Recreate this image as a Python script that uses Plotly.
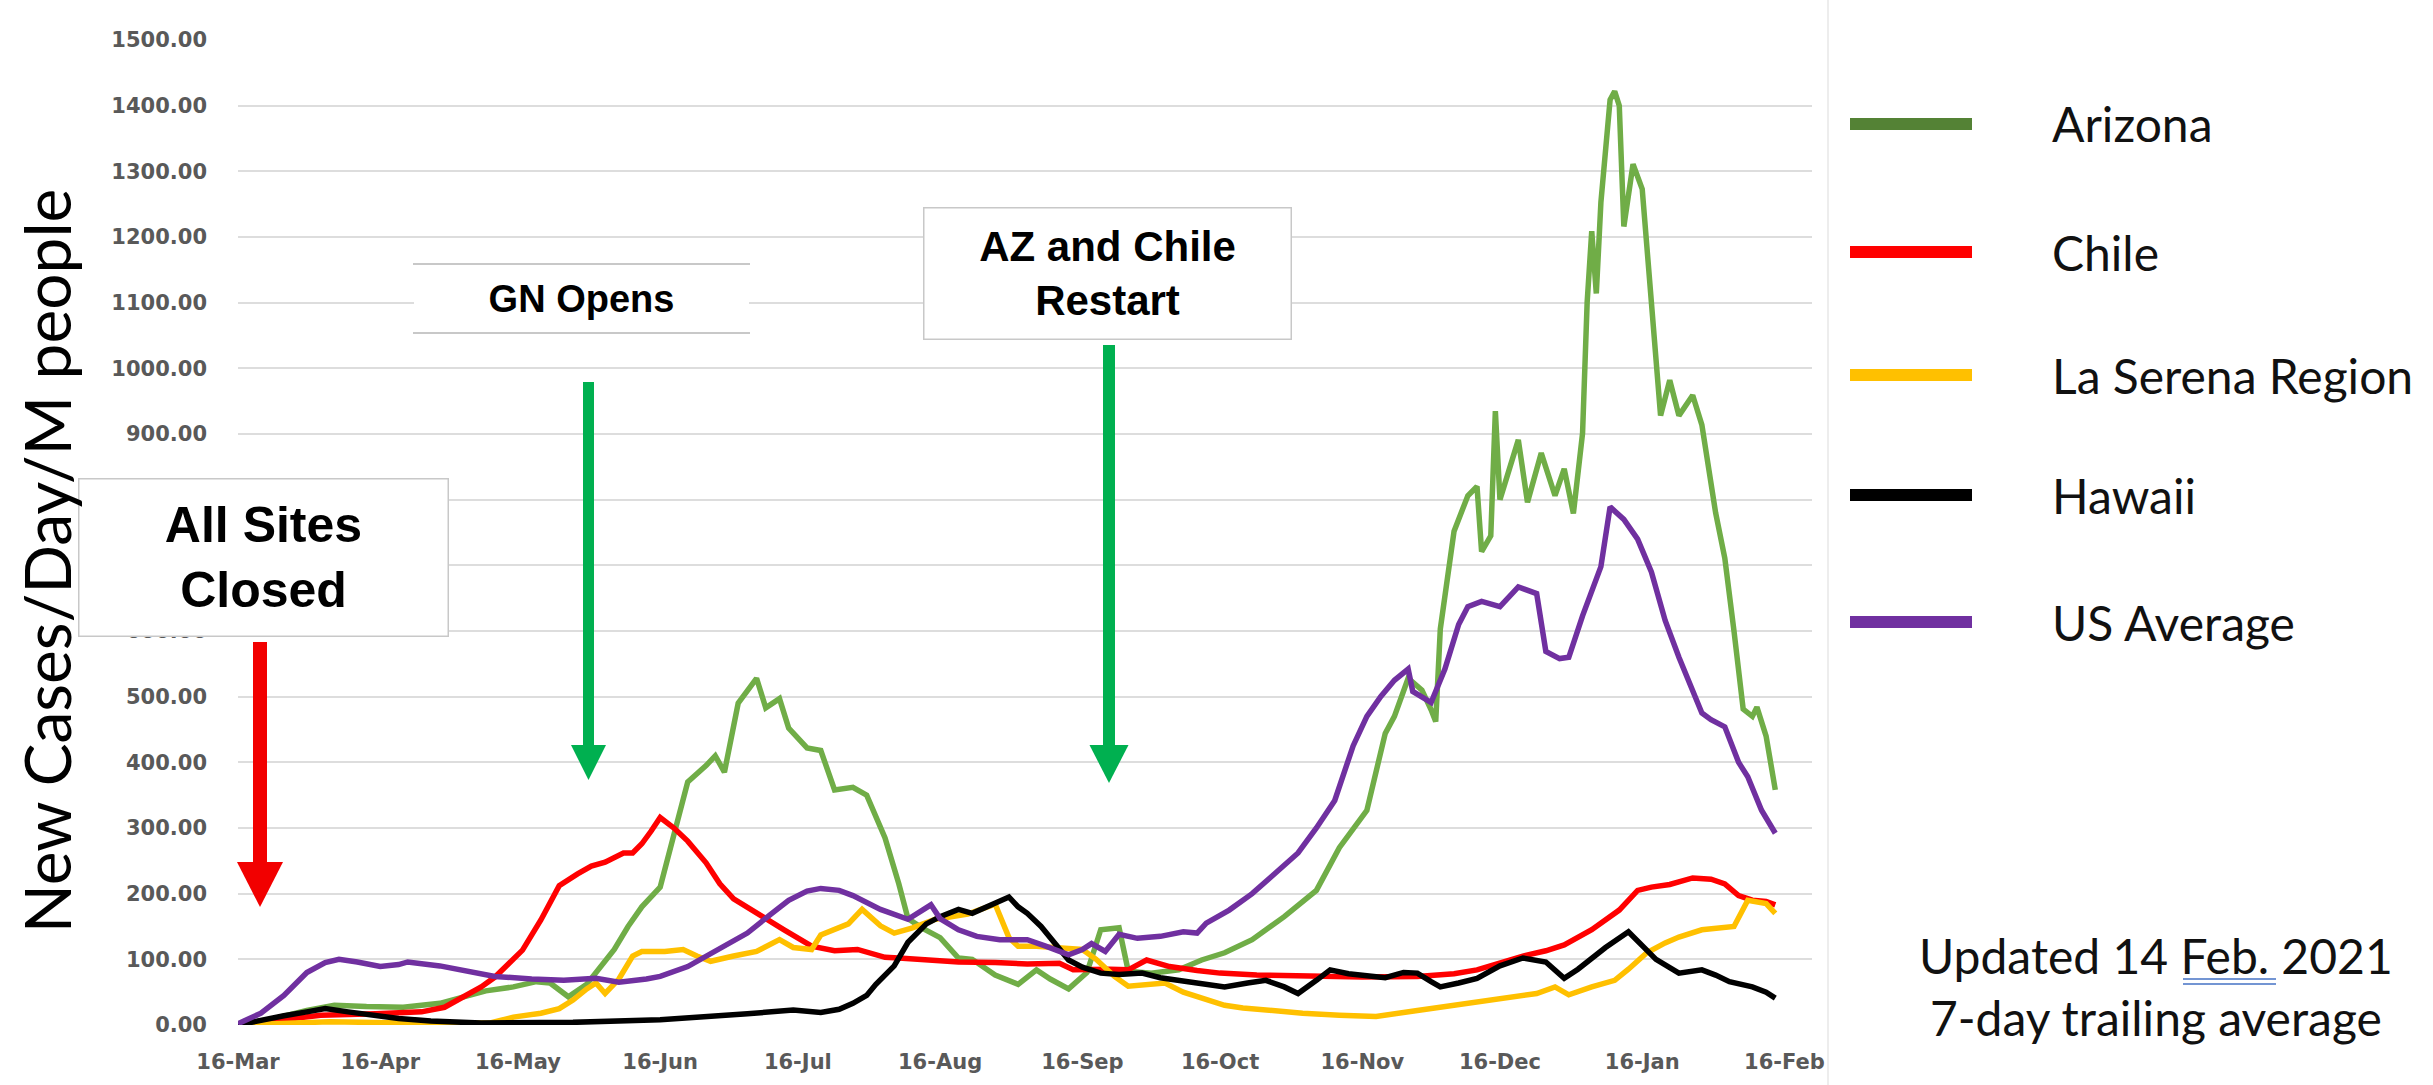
import pandas as pd
import plotly.graph_objects as go

BASE = pd.Timestamp("2020-03-16")

# (day offset from 16-Mar-2020, new cases/day/M people)
ARIZONA = [(0,0),(8,10),(15,22),(21,30),(28,28),(36,27),(44,33),(48,40),(54,52),(60,58),(65,66),(68,64),(72,43),(76,62),(78,80),(82,115),(85,150),(88,180),(92,210),(95,290),(98,370),(102,395),(104,410),(106,385),(109,490),(113,528),(115,483),(118,497),(120,452),(124,422),(127,418),(130,358),(134,362),(137,350),(141,285),(144,215),(146,162),(149,148),(153,133),(157,102),(160,100),(165,76),(170,62),(174,84),(177,70),(181,55),(185,80),(188,145),(192,148),(194,82),(199,79),(205,84),(210,99),(215,110),(221,130),(228,165),(235,205),(240,270),(243,300),(246,327),(250,444),(252,470),(255,528),(258,510),(260,480),(261,462),(262,603),(265,752),(268,806),(270,820),(271,721),(273,745),(274,935),(275,800),(279,891),(281,796),(284,871),(287,806),(289,847),(291,779),(293,901),(294,1100),(295,1209),(296,1114),(297,1253),(299,1409),(300,1422),(301,1400),(302,1216),(304,1311),(306,1273),(308,1100),(310,928),(312,982),(314,928),(317,959),(319,914),(322,780),(324,711),(326,600),(328,481),(330,470),(331,484),(333,440),(335,358)]
CHILE = [(0,0),(10,8),(18,15),(30,17),(40,20),(45,27),(49,43),(53,58),(56,73),(62,114),(66,160),(70,212),(74,230),(77,242),(80,248),(84,262),(86,262),(88,276),(90,295),(92,316),(95,300),(98,280),(102,247),(105,215),(108,192),(113,170),(119,145),(125,120),(130,113),(135,115),(141,103),(144,102),(150,99),(157,96),(165,95),(172,93),(179,94),(182,84),(190,85),(194,84),(198,99),(203,89),(209,83),(214,79),(222,76),(232,74),(245,73),(257,74),(265,78),(270,84),(275,95),(280,105),(285,113),(289,122),(295,145),(301,175),(305,205),(308,210),(312,214),(317,224),(321,222),(324,215),(327,197),(330,190),(333,188),(335,183)]
LA_SERENA = [(0,0),(20,5),(36,3),(50,2),(55,3),(60,12),(66,18),(70,25),(73,38),(76,55),(78,64),(80,48),(83,70),(86,105),(88,112),(93,112),(97,115),(100,105),(103,97),(108,105),(113,112),(118,130),(121,118),(125,115),(127,137),(133,154),(136,176),(140,151),(143,140),(147,148),(152,161),(159,169),(163,178),(165,184),(168,133),(170,120),(174,120),(180,118),(184,115),(187,100),(191,74),(194,59),(198,62),(202,64),(206,50),(211,38),(215,30),(219,26),(225,22),(232,18),(240,15),(248,13),(257,22),(265,30),(270,36),(278,42),(283,48),(287,58),(290,46),(295,58),(300,68),(303,85),(307,110),(311,125),(314,134),(319,145),(323,148),(326,150),(329,190),(331,188),(333,185),(335,170)]
HAWAII = [(0,0),(5,8),(10,14),(15,20),(19,25),(24,20),(29,15),(35,10),(42,6),(53,3),(73,4),(92,8),(111,17),(121,23),(127,19),(131,24),(134,33),(137,45),(139,62),(141,75),(143,90),(146,126),(148,140),(150,154),(153,165),(157,176),(160,170),(163,180),(166,190),(168,195),(170,180),(172,170),(175,150),(178,125),(181,99),(184,88),(188,79),(192,77),(197,79),(201,72),(205,68),(210,63),(215,58),(220,64),(224,68),(228,58),(231,48),(235,68),(238,84),(242,78),(246,76),(250,72),(254,80),(257,79),(260,66),(262,58),(266,64),(270,71),(275,90),(280,102),(285,96),(289,71),(292,85),(294,96),(298,118),(303,142),(306,120),(309,100),(314,79),(319,84),(322,76),(325,66),(330,58),(333,50),(335,41)]
US_AVERAGE = [(0,2),(5,18),(10,45),(15,80),(19,95),(22,100),(26,96),(31,89),(35,92),(37,96),(44,90),(49,84),(56,74),(64,70),(71,68),(78,71),(83,65),(89,70),(92,74),(98,89),(104,112),(111,140),(116,168),(120,190),(124,204),(127,208),(131,205),(134,197),(140,176),(146,161),(151,183),(153,162),(157,145),(161,135),(166,130),(172,130),(176,120),(181,107),(184,115),(186,124),(189,112),(192,138),(196,132),(201,135),(206,142),(209,140),(211,155),(216,175),(221,200),(226,230),(231,262),(235,300),(239,342),(243,425),(246,470),(249,500),(252,525),(255,542),(256,508),(260,491),(263,542),(266,610),(268,637),(271,645),(275,637),(279,667),(283,657),(285,569),(288,558),(290,560),(293,623),(297,698),(299,789),(302,770),(305,740),(308,690),(311,616),(314,560),(316,525),(319,475),(321,465),(324,454),(327,400),(329,378),(332,327),(334,305),(335,292)]

SERIES_NAMES = ["Arizona", "Chile", "La Serena Region", "Hawaii", "US Average"]
SERIES_DATA = [ARIZONA, CHILE, LA_SERENA, HAWAII, US_AVERAGE]
LINE_COLORS = ["#70AD47", "#FF0000", "#FFC000", "#000000", "#7030A0"]
LEGEND_COLORS = ["#548235", "#FF0000", "#FFC000", "#000000", "#7030A0"]

TICK_DATES = ["2020-03-16", "2020-04-16", "2020-05-16", "2020-06-16", "2020-07-16", "2020-08-16",
              "2020-09-16", "2020-10-16", "2020-11-16", "2020-12-16", "2021-01-16", "2021-02-16"]
TICK_TEXT = ["16-Mar", "16-Apr", "16-May", "16-Jun", "16-Jul", "16-Aug",
             "16-Sep", "16-Oct", "16-Nov", "16-Dec", "16-Jan", "16-Feb"]
Y_TICKS = list(range(0, 1501, 100))

W, H = 2433, 1085
L, R, T, B = 238, 1812, 40, 1025  # plot area in pixels


def px(x):
    return (x - L) / (R - L)


def py(y):
    return (B - y) / (B - T)


fig = go.Figure()
for name, data, col in zip(SERIES_NAMES, SERIES_DATA, LINE_COLORS):
    dates = [BASE + pd.Timedelta(days=d) for d, _ in data]
    vals = [v for _, v in data]
    fig.add_trace(go.Scatter(x=dates, y=vals, mode="lines", name=name,
                             line=dict(color=col, width=5.5), showlegend=False))

shapes = []
annotations = []

# white cover for the legend panel (right side)
shapes.append(dict(type="rect", xref="paper", yref="paper", x0=px(1828), x1=px(W + 10),
                   y0=py(H + 10), y1=py(-10), fillcolor="white", line=dict(width=0), layer="above"))
shapes.append(dict(type="line", xref="paper", yref="paper", x0=px(1828), x1=px(1828),
                   y0=py(H), y1=py(0), line=dict(color="#EDEDED", width=2), layer="above"))

# arrows
def arrow(cx, w, top, headtop, tip, half, color):
    shapes.append(dict(type="rect", xref="paper", yref="paper", x0=px(cx - w / 2), x1=px(cx + w / 2),
                       y0=py(headtop + 1), y1=py(top), fillcolor=color, line=dict(width=0), layer="above"))
    path = "M{},{} L{},{} L{},{} Z".format(px(cx - half), py(headtop), px(cx + half), py(headtop),
                                            px(cx), py(tip))
    shapes.append(dict(type="path", xref="paper", yref="paper", path=path, fillcolor=color,
                       line=dict(width=0), layer="above"))


arrow(260, 14, 642, 862, 907, 23, "#F20000")
arrow(588.5, 11, 382, 745, 780, 17.5, "#00B050")
arrow(1109, 12, 345, 745, 783, 19.5, "#00B050")

# GN Opens box top/bottom rules
for yy in (264, 333):
    shapes.append(dict(type="line", xref="paper", yref="paper", x0=px(413), x1=px(750),
                       y0=py(yy), y1=py(yy), line=dict(color="#C8C8C8", width=2), layer="above"))

# blue spell-check underline under "Feb."
for yy in (979, 984):
    shapes.append(dict(type="line", xref="paper", yref="paper", x0=px(2183), x1=px(2276),
                       y0=py(yy), y1=py(yy), line=dict(color="#4472C4", width=1.5), layer="above"))

# legend
LEG_Y = [124, 252, 375, 495, 622]
for name, col, yy in zip(SERIES_NAMES, LEGEND_COLORS, LEG_Y):
    shapes.append(dict(type="line", xref="paper", yref="paper", x0=px(1850), x1=px(1972),
                       y0=py(yy), y1=py(yy), line=dict(color=col, width=12), layer="above"))
    annotations.append(dict(xref="paper", yref="paper", x=px(2050), y=py(yy), text=name,
                            showarrow=False, xanchor="left", yanchor="middle",
                            font=dict(family="Lato", size=48, color="#111111")))

# boxes with text
box_font = "Liberation Sans"
annotations.append(dict(xref="paper", yref="paper", x=px(263), y=py(557), text="<b>All Sites<br>Closed</b>",
                        showarrow=False, xanchor="center", yanchor="middle", width=368, height=156,
                        bgcolor="white", bordercolor="#C8C8C8", borderwidth=1.5, borderpad=0,
                        font=dict(family=box_font, size=50, color="black")))
annotations.append(dict(xref="paper", yref="paper", x=px(581.5), y=py(298.5), text="<b>GN Opens</b>",
                        showarrow=False, xanchor="center", yanchor="middle", width=335, height=66,
                        bgcolor="white", borderwidth=0, borderpad=0,
                        font=dict(family=box_font, size=38, color="black")))
annotations.append(dict(xref="paper", yref="paper", x=px(1107), y=py(273), text="<b>AZ and Chile<br>Restart</b>",
                        showarrow=False, xanchor="center", yanchor="middle", width=366, height=130,
                        bgcolor="white", bordercolor="#C8C8C8", borderwidth=1.5, borderpad=0,
                        font=dict(family=box_font, size=42, color="black")))

# y title
annotations.append(dict(xref="paper", yref="paper", x=px(46), y=py(561), text="New Cases/Day/M people",
                        showarrow=False, textangle=-90, xanchor="center", yanchor="middle",
                        font=dict(family="Lato", size=64, color="black")))

# update note
annotations.append(dict(xref="paper", yref="paper", x=px(2156), y=py(986),
                        text="Updated 14 Feb. 2021<br>7-day trailing average",
                        showarrow=False, xanchor="center", yanchor="middle", align="center",
                        font=dict(family="Lato", size=48, color="#111111")))

fig.update_layout(
    width=W, height=H,
    margin=dict(l=L, r=W - R, t=T, b=H - B, pad=0),
    paper_bgcolor="white", plot_bgcolor="white",
    showlegend=False,
    shapes=shapes, annotations=annotations,
    xaxis=dict(range=[BASE, BASE + pd.Timedelta(days=343)], tickvals=TICK_DATES, ticktext=TICK_TEXT,
               showgrid=False, zeroline=False, showline=False, ticks="",
               tickfont=dict(family="DejaVu Sans", size=21, color="#595959", weight="bold"),
               ticklabelstandoff=22),
    yaxis=dict(range=[0, 1500], tickvals=Y_TICKS, tickformat=".2f",
               showgrid=True, gridcolor="#DDDDDD", gridwidth=2, zeroline=False, showline=False, ticks="",
               tickfont=dict(family="DejaVu Sans", size=21, color="#595959", weight="bold"),
               ticklabelstandoff=30),
)

fig.write_html("out.html", config={"displayModeBar": False},
               post_script="document.body.style.margin='0';document.body.style.overflow='hidden';")
